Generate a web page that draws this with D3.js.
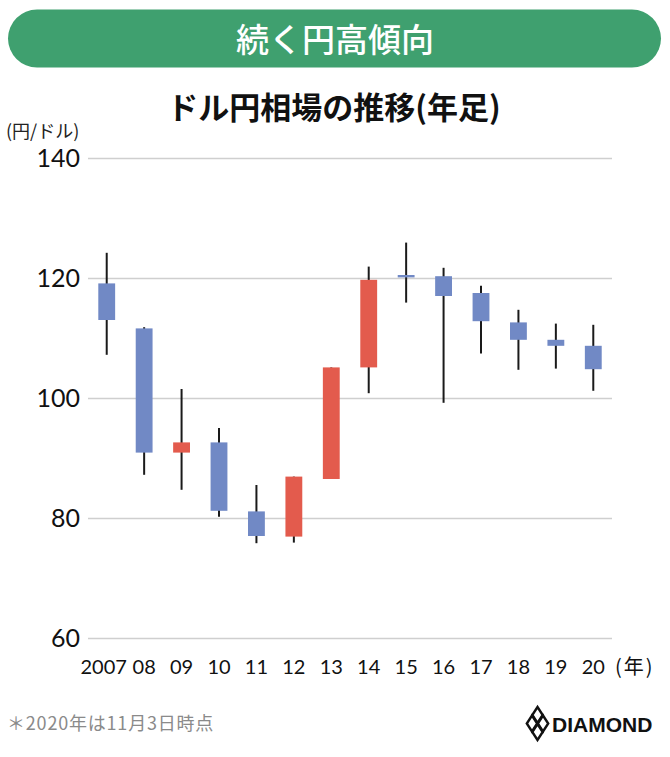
<!DOCTYPE html>
<html>
<head>
<meta charset="utf-8">
<script src="https://cdn.jsdelivr.net/npm/d3@7"></script>
<style>
  body { margin: 0; background: #fff; }
  svg { display: block; font-family: "Noto Sans CJK JP", "Noto Sans", sans-serif; }
</style>
</head>
<body>
<script>
// yearly USD/JPY candles
var years = ['2007', '08', '09', '10', '11', '12', '13', '14', '15', '16', '17', '18', '19', '20'];
var open  = [119.1, 111.6, 90.9, 92.6, 81.1, 76.9, 86.5, 105.1, 120.5, 120.3, 117.5, 112.6, 109.7, 108.7];
var high  = [124.2, 111.8, 101.5, 95.0, 85.5, 86.9, 105.1, 121.9, 125.9, 121.7, 118.7, 114.7, 112.4, 112.2];
var low   = [107.2, 87.2, 84.7, 80.2, 75.8, 75.9, 86.5, 100.8, 115.9, 99.2, 107.4, 104.7, 104.9, 101.2];
var close = [113.0, 90.9, 92.6, 81.2, 77.0, 86.9, 105.1, 119.7, 120.1, 117.0, 112.8, 109.7, 108.7, 104.8];
var yTicks = [60, 80, 100, 120, 140];

var width = 670, height = 757;
// note: "top" is taken by window.top, so plot edges get their own names
var plotL = 88, plotR = 612, plotT = 158, plotB = 638;

var svg = d3.select('body').append('svg').attr('width', width).attr('height', height);

// header banner
svg.append('rect')
  .attr('x', 8).attr('y', 9.5).attr('width', 653).attr('height', 58)
  .attr('rx', 29).attr('fill', '#3fa06f');
svg.append('text')
  .attr('x', 335).attr('y', 40).attr('dy', '0.36em')
  .attr('text-anchor', 'middle').attr('fill', '#fff')
  .attr('font-size', 33).attr('font-weight', 500)
  .text('続く円高傾向');

svg.append('text')
  .attr('x', 334).attr('y', 108).attr('dy', '0.36em')
  .attr('text-anchor', 'middle').attr('fill', '#111')
  .attr('font-size', 31).attr('font-weight', 700)
  .text('ドル円相場の推移(年足)');

svg.append('text')
  .attr('x', 6).attr('y', 132).attr('dy', '0.36em')
  .attr('fill', '#222').attr('font-size', 18)
  .text('(円/ドル)');

var x = d3.scaleBand().domain(years).range([plotL, plotR]).paddingInner(0.55).paddingOuter(0.275);
var y = d3.scaleLinear().domain([60, 140]).range([plotB, plotT]);

// gridlines + y labels
var yAxis = svg.append('g')
  .attr('transform', 'translate(' + plotL + ',0)')
  .call(d3.axisLeft(y).tickValues(yTicks).tickSize(-(plotR - plotL)).tickPadding(8).tickFormat(d3.format('d')));
yAxis.select('.domain').remove();
yAxis.selectAll('line').attr('stroke', '#cfcfcf').attr('stroke-width', 1.5);
yAxis.selectAll('text').attr('font-size', 25).attr('fill', '#111')
  .attr('font-family', 'Lato, "Noto Sans", sans-serif');

// x labels
var xAxis = svg.append('g')
  .attr('transform', 'translate(0,660)')
  .call(d3.axisBottom(x).tickSize(0).tickPadding(0));
xAxis.select('.domain').remove();
xAxis.selectAll('text').attr('font-size', 20).attr('fill', '#111')
  .attr('font-family', 'Lato, "Noto Sans", sans-serif')
  .attr('dx', function(d) { return d === '2007' ? -3 : 0; });

svg.append('text')
  .attr('x', 615).attr('y', 667).attr('dy', '0.36em')
  .attr('font-size', 20).attr('letter-spacing', 2).attr('fill', '#111')
  .text('(年)');

// candles
var idx = d3.range(years.length);
var candles = svg.append('g').selectAll('g').data(idx).enter().append('g');

candles.append('line')
  .attr('x1', function(i) { return x(years[i]) + x.bandwidth() / 2; })
  .attr('x2', function(i) { return x(years[i]) + x.bandwidth() / 2; })
  .attr('y1', function(i) { return y(high[i]); })
  .attr('y2', function(i) { return y(low[i]); })
  .attr('stroke', '#1a1a1a').attr('stroke-width', 2);

candles.append('rect')
  .attr('x', function(i) { return x(years[i]); })
  .attr('width', x.bandwidth())
  .attr('y', function(i) { return y(Math.max(open[i], close[i])); })
  .attr('height', function(i) { return Math.max(2, Math.abs(y(open[i]) - y(close[i]))); })
  .attr('fill', function(i) { return close[i] > open[i] ? '#e35b4d' : '#7189c5'; });

// footnote
svg.append('text')
  .attr('x', 7).attr('y', 724).attr('dy', '0.36em')
  .attr('font-size', 18).attr('letter-spacing', 0.8).attr('fill', '#8a8a8a')
  .text('＊2020年は11月3日時点');

// DIAMOND mark
var logo = svg.append('g').attr('transform', 'translate(537.5,723.5)');
var offs = [[0, -8.5], [-5.5, 0], [5.5, 0], [0, 8.5]];
logo.selectAll('path').data(offs).enter().append('path')
  .attr('d', function(o) {
    var cx = o[0], cy = o[1];
    return 'M' + cx + ',' + (cy - 8) + 'L' + (cx + 5.2) + ',' + cy + 'L' + cx + ',' + (cy + 8) + 'L' + (cx - 5.2) + ',' + cy + 'Z';
  })
  .attr('fill', 'none').attr('stroke', '#111').attr('stroke-width', 2.4);
svg.append('text')
  .attr('x', 552).attr('y', 724).attr('dy', '0.36em')
  .attr('font-family', '"Liberation Sans", Arial, sans-serif')
  .attr('font-size', 21).attr('font-weight', 700).attr('fill', '#111')
  .text('DIAMOND');
</script>
</body>
</html>
